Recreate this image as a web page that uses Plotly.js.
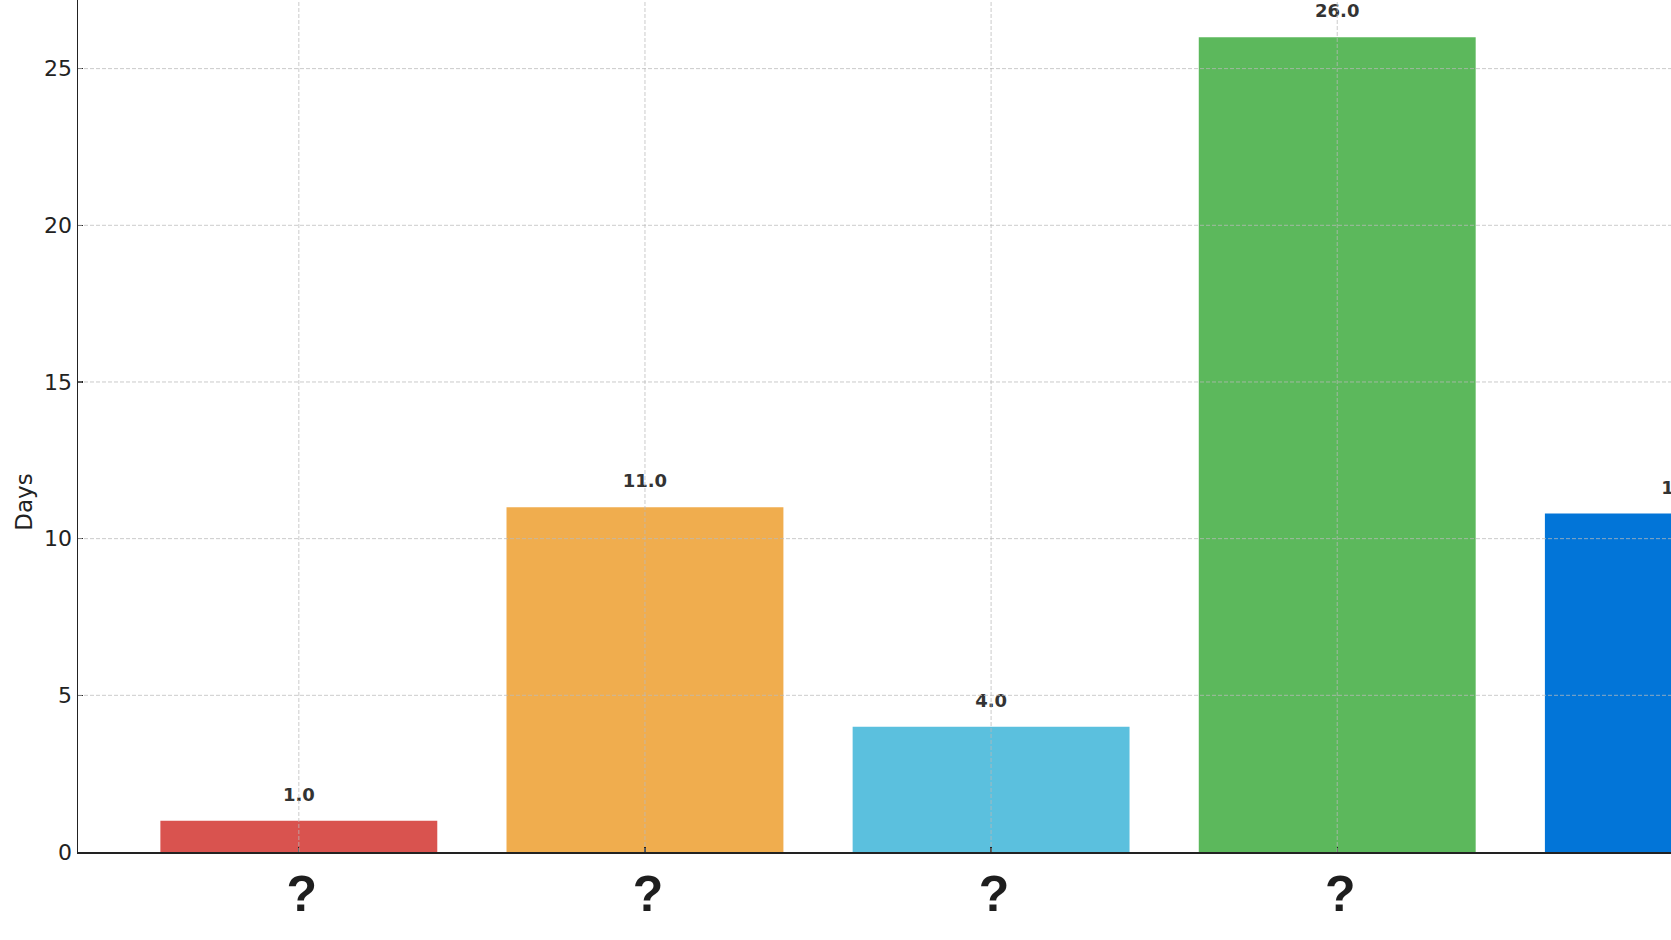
<!DOCTYPE html>
<html>
<head>
<meta charset="utf-8">
<script src="https://cdn.plot.ly/plotly-3.0.1.min.js"></script>
<style>
html,body{margin:0;padding:0;background:#fff;overflow:hidden;}
#wrap{width:1671px;height:940px;overflow:hidden;position:relative;}
#chart{width:1800px;height:940px;}
</style>
</head>
<body>
<div id="wrap"><div id="chart"></div></div>
<script>
const categories = ["A", "B", "C", "D", "E"];
const tickLabels = ["?", "?", "?", "?", "?"];
const values = [1.0, 11.0, 4.0, 26.0, 10.8];
const barColors = ["#d9534f", "#f0ad4e", "#5bc0de", "#5cb85c", "#0275d8"];
const yTicks = [0, 5, 10, 15, 20, 25];

const idx = categories.map((c, i) => i);

const bars = {
  type: "bar",
  x: idx,
  y: values,
  width: 0.8,
  marker: {color: barColors, line: {width: 0}},
  hoverinfo: "skip"
};

const labels = {
  type: "scatter",
  mode: "markers+text",
  x: idx,
  y: values,
  text: values.map(v => "<b>" + v.toFixed(1) + "</b>"),
  textposition: "top center",
  textfont: {family: "DejaVu Sans", size: 18, color: "#333333"},
  marker: {size: 23, opacity: 0},
  cliponaxis: false,
  hoverinfo: "skip"
};

const gridStyle = {color: "rgba(185,185,185,0.75)", width: 1, dash: "4px,2px"};
const shapes = [];
yTicks.filter(v => v > 0).forEach(v => shapes.push({
  type: "line", layer: "above", xref: "paper", x0: 0, x1: 1, yref: "y", y0: v, y1: v, line: gridStyle
}));
idx.forEach(i => shapes.push({
  type: "line", layer: "above", xref: "x", x0: i, x1: i, yref: "paper", y0: 0, y1: 1, line: gridStyle
}));

const annotations = [{
  xref: "paper", yref: "paper", x: 0, y: 0.41, xshift: -54,
  xanchor: "center", yanchor: "middle",
  text: "Days", textangle: -90, showarrow: false,
  font: {family: "DejaVu Sans", size: 23, color: "#222222"}
}];

const layout = {
  width: 1800, height: 940,
  margin: {l: 78, r: 0, t: 0, b: 88, pad: 0},
  paper_bgcolor: "#ffffff", plot_bgcolor: "#ffffff",
  showlegend: false,
  xaxis: {
    range: [-0.638, 4.337],
    tickmode: "array", tickvals: idx, ticktext: tickLabels,
    tickfont: {family: "Liberation Sans", size: 50, color: "#1e1e1e", weight: "bold"},
    ticks: "inside", ticklen: 5, tickwidth: 1.2, tickcolor: "#222",
    ticklabelstandoff: -3,
    ticklabelshift: 3,
    showgrid: false, zeroline: false,
    showline: true, linecolor: "#222", linewidth: 1.5,
    layer: "above traces",
    automargin: false, fixedrange: true
  },
  yaxis: {
    range: [0, 27.19],
    tickmode: "array", tickvals: yTicks,
    tickfont: {family: "DejaVu Sans", size: 22, color: "#222222"},
    ticks: "inside", ticklen: 5, tickwidth: 1.2, tickcolor: "#222",
    ticklabelstandoff: 0,
    showgrid: false, zeroline: false,
    showline: true, linecolor: "#222", linewidth: 1.5,
    layer: "above traces",
    automargin: false, fixedrange: true
  },
  shapes: shapes,
  annotations: annotations
};

Plotly.newPlot("chart", [bars, labels], layout, {displayModeBar: false, staticPlot: true});
</script>
</body>
</html>
